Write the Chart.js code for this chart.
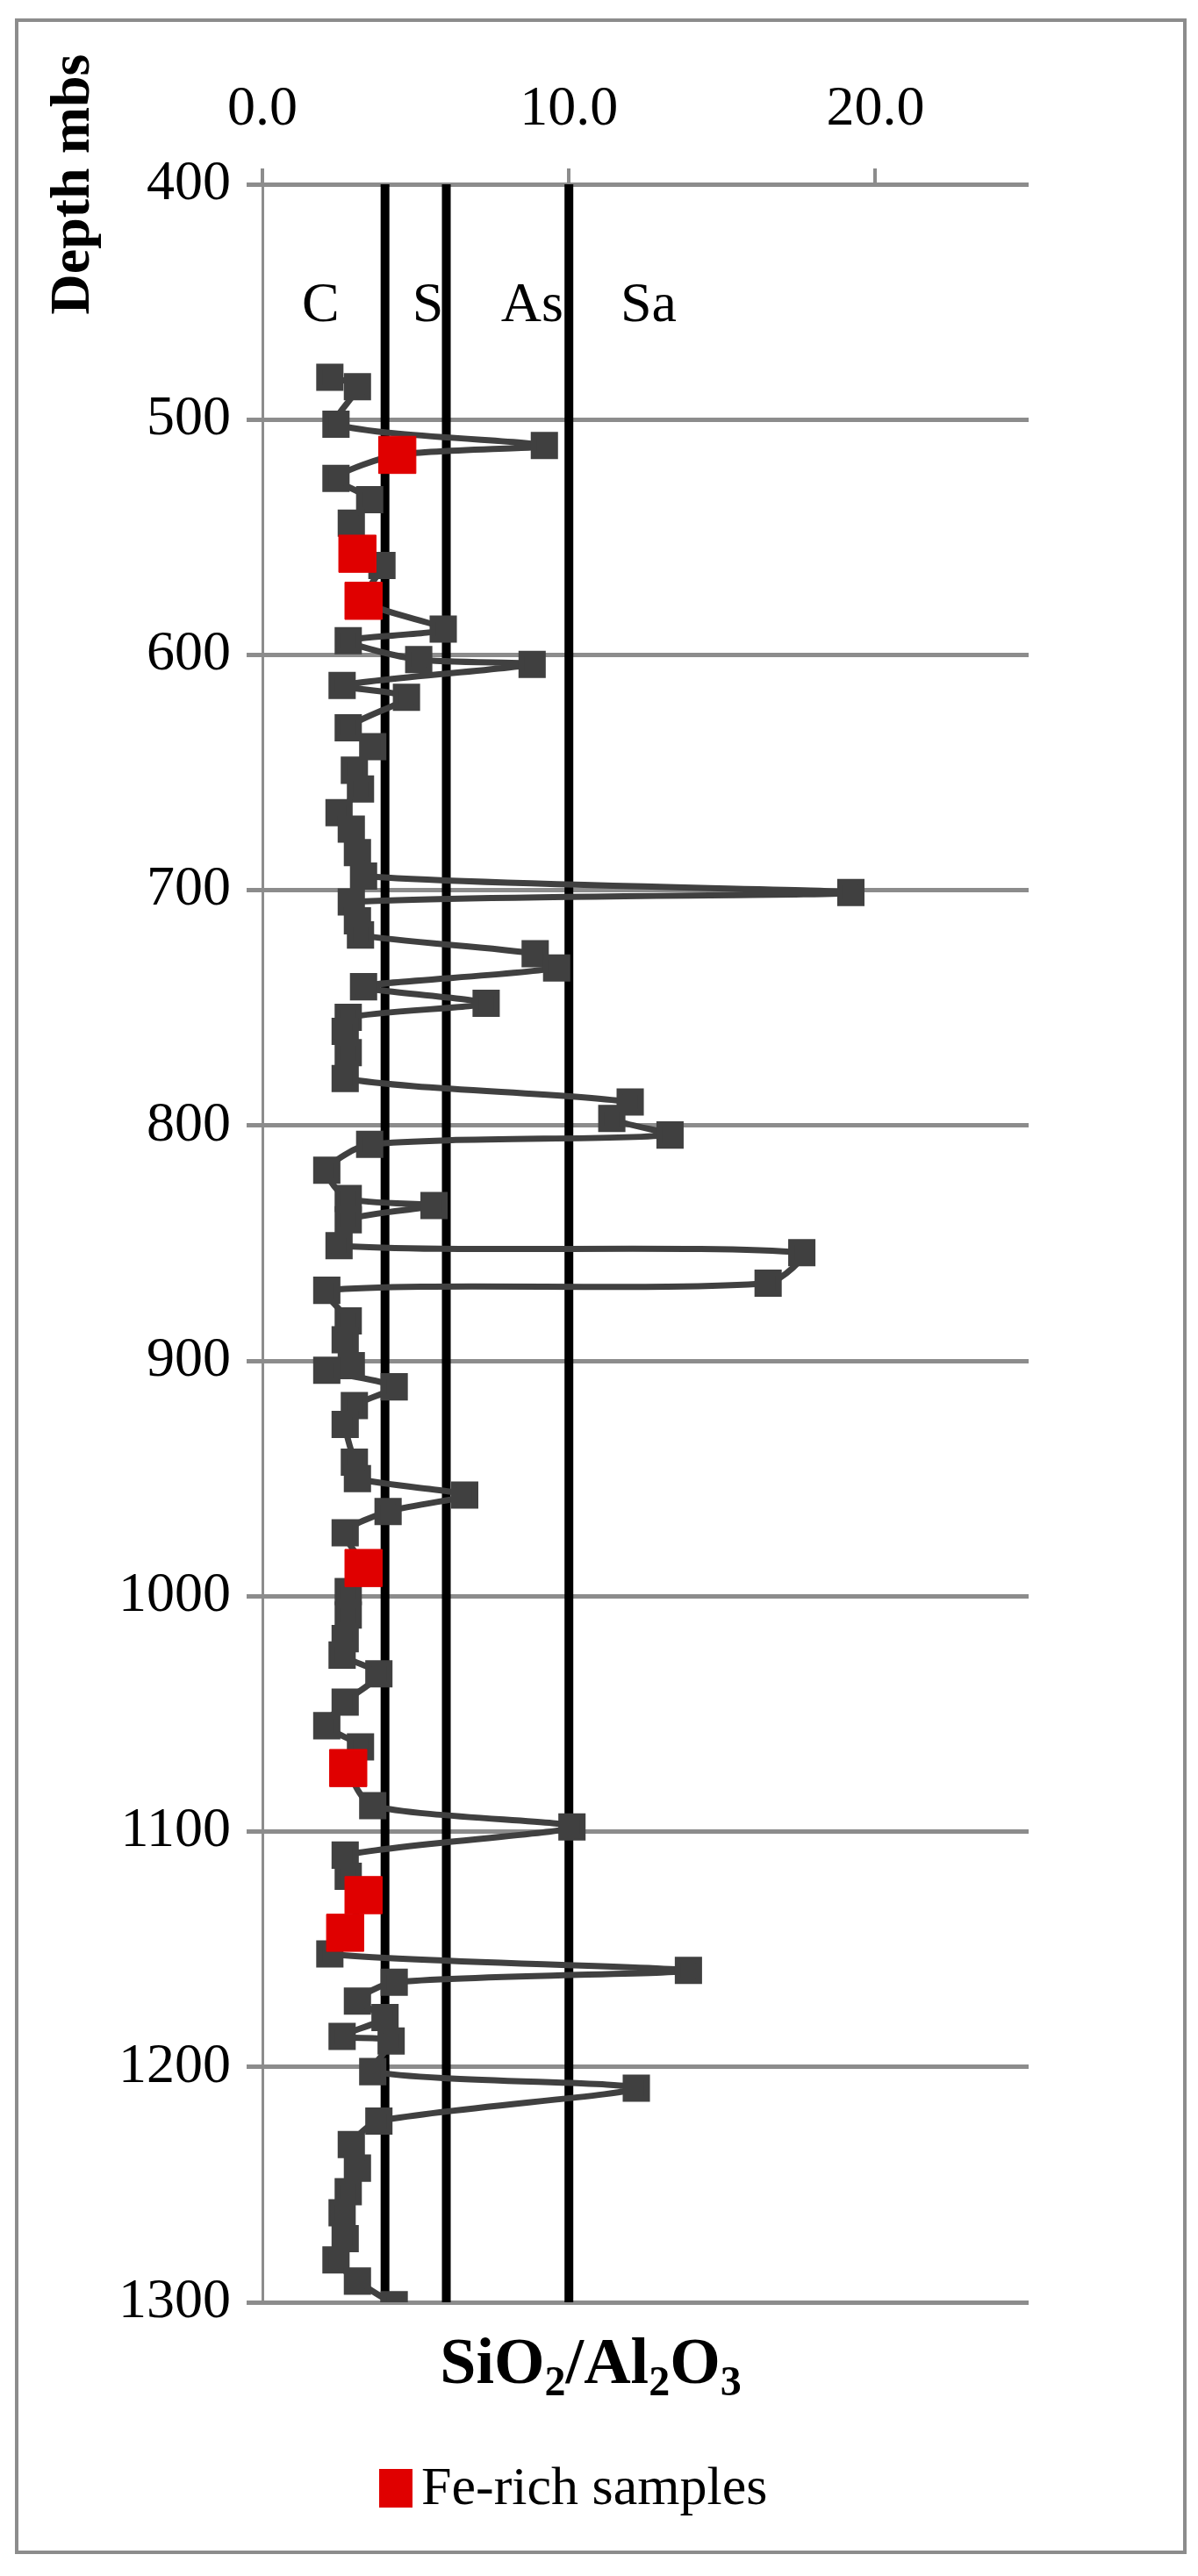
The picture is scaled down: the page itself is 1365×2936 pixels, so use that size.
<!DOCTYPE html>
<html>
<head>
<meta charset="utf-8">
<script src="https://cdn.jsdelivr.net/npm/chart.js@4/dist/chart.umd.min.js"></script>
<style>
  html, body { margin: 0; padding: 0; background: #fff; }
  canvas { display: block; }
</style>
</head>
<body>
<canvas id="chart" width="1365" height="2936"></canvas>
<script>
// SiO2/Al2O3 ratio vs depth (mbs)
const depths = [482, 486, 502, 511, 515, 525, 534, 544, 557, 562, 577, 589, 594, 602, 604, 613, 618, 631, 639, 649,
  657, 667, 674, 684, 694, 701, 705, 713, 719, 727, 733, 741, 748, 754, 760, 769, 780, 790, 797, 804,
  808, 819, 831, 834, 840, 851, 854, 867, 870, 883, 891, 902, 904, 911, 919, 927, 943, 950, 957, 964,
  973, 988, 998, 1008, 1018, 1025, 1033, 1045, 1055, 1064, 1073, 1089, 1098, 1110, 1119, 1127, 1143, 1152, 1159, 1164,
  1172, 1179, 1187, 1189, 1202, 1209, 1223, 1233, 1243, 1253, 1262, 1273, 1282, 1291, 1301];
const ratios = [2.2, 3.1, 2.4, 9.2, 4.4, 2.4, 3.5, 2.9, 3.1, 3.9, 3.3, 5.9, 2.8, 5.1, 8.8, 2.6, 4.7, 2.8, 3.6, 3.0,
  3.2, 2.5, 2.9, 3.1, 3.3, 19.2, 2.9, 3.1, 3.2, 8.9, 9.6, 3.3, 7.3, 2.8, 2.7, 2.8, 2.7, 12.0, 11.4, 13.3,
  3.5, 2.1, 2.8, 5.6, 2.8, 2.5, 17.6, 16.5, 2.1, 2.8, 2.7, 2.9, 2.1, 4.3, 3.0, 2.7, 3.0, 3.1, 6.6, 4.1,
  2.7, 3.3, 2.8, 2.8, 2.7, 2.6, 3.8, 2.7, 2.1, 3.2, 2.8, 3.6, 10.1, 2.7, 2.8, 3.3, 2.7, 2.2, 13.9, 4.3,
  3.1, 4.0, 2.6, 4.2, 3.6, 12.2, 3.8, 2.9, 3.1, 2.8, 2.6, 2.7, 2.4, 3.1, 4.3];

const feDepths = [515, 557, 577, 988, 1073, 1127, 1143];
const feRatios = [4.4, 3.1, 3.3, 3.3, 2.8, 3.3, 2.7];

const boundaryValues = [4, 6, 10];
const zoneLabels = ["C", "S", "As", "Sa"];
const zoneLabelX = [1.9, 5.4, 8.8, 12.6];
const depthTicks = [400, 500, 600, 700, 800, 900, 1000, 1100, 1200, 1300];
const ratioTicks = [0, 10, 20];

const serif = "'Liberation Serif', 'DejaVu Serif', serif";

const datasets = [];
boundaryValues.forEach(function (v) {
  datasets.push({
    data: [{ x: v, y: 400 }, { x: v, y: 1300 }],
    showLine: true, borderColor: "#000", borderWidth: 10, pointRadius: 0, order: 3
  });
});
datasets.push({
  data: depths.map((d, i) => ({ x: ratios[i], y: d })),
  showLine: true, borderColor: "#404040", borderWidth: 7, tension: 0.25,
  pointStyle: "rect", pointRadius: 17, pointBackgroundColor: "#404040",
  pointBorderColor: "#404040", order: 2
});
datasets.push({
  data: feDepths.map((d, i) => ({ x: feRatios[i], y: d })),
  showLine: false, pointStyle: "rect", pointRadius: 30,
  pointBackgroundColor: "#e00000", pointBorderColor: "#e00000", order: 1
});

const decorations = {
  id: "decorations",
  afterDraw(chart) {
    const ctx = chart.ctx;
    const xs = chart.scales.x, ys = chart.scales.y;
    ctx.save();
    // outer border
    ctx.strokeStyle = "#8c8c8c";
    ctx.lineWidth = 4;
    ctx.strokeRect(19, 23, 1331, 2886);
    // zone labels
    ctx.fillStyle = "#000";
    ctx.font = "64px " + serif;
    ctx.textAlign = "center";
    ctx.textBaseline = "middle";
    zoneLabels.forEach((t, i) => ctx.fillText(t, xs.getPixelForValue(zoneLabelX[i]), ys.getPixelForValue(452)));
    // y axis title
    ctx.save();
    ctx.translate(84, 210);
    ctx.rotate(-Math.PI / 2);
    ctx.font = "bold 64px " + serif;
    ctx.fillText("Depth mbs", 0, 0);
    ctx.restore();
    // x axis title with subscripts
    const seq = [["SiO", 0], ["2", 1], ["/Al", 0], ["2", 1], ["O", 0], ["3", 1]];
    const big = "bold 74px " + serif, small = "bold 48px " + serif;
    let total = 0;
    seq.forEach(p => { ctx.font = p[1] ? small : big; total += ctx.measureText(p[0]).width; });
    let x = 673 - total / 2;
    ctx.textAlign = "left";
    ctx.textBaseline = "alphabetic";
    seq.forEach(p => {
      ctx.font = p[1] ? small : big;
      ctx.fillText(p[0], x, p[1] ? 2730 : 2716);
      x += ctx.measureText(p[0]).width;
    });
    // legend
    ctx.fillStyle = "#e00000";
    ctx.fillRect(432, 2814, 38, 44);
    ctx.fillStyle = "#000";
    ctx.font = "62px " + serif;
    ctx.textBaseline = "middle";
    ctx.fillText("Fe-rich samples", 480, 2838);
    ctx.restore();
  }
};

new Chart(document.getElementById("chart"), {
  type: "scatter",
  data: { datasets: datasets },
  options: {
    responsive: false,
    devicePixelRatio: 1,
    animation: false,
    layout: { padding: { left: 0, top: 0, right: 193, bottom: 312 } },
    plugins: { legend: { display: false }, tooltip: { enabled: false } },
    scales: {
      x: {
        type: "linear", position: "top", min: 0, max: 25,
        afterBuildTicks: s => { s.ticks = ratioTicks.map(v => ({ value: v })); },
        afterFit: s => { s.height = 210; },
        ticks: { color: "#000", font: { family: serif, size: 64 }, padding: 28, callback: v => v.toFixed(1) },
        grid: { drawOnChartArea: false, color: "#8c8c8c", lineWidth: 4, tickLength: 18 },
        border: { display: false }
      },
      y: {
        type: "linear", reverse: true, min: 400, max: 1300,
        afterBuildTicks: s => { s.ticks = depthTicks.map(v => ({ value: v })); },
        afterFit: s => { s.width = 299; },
        ticks: { color: "#000", font: { family: serif, size: 64 }, padding: 18, callback: v => String(v) },
        grid: { color: "#8c8c8c", lineWidth: 5, tickLength: 18 },
        border: { color: "#8c8c8c", width: 3 }
      }
    }
  },
  plugins: [decorations]
});
</script>
</body>
</html>
